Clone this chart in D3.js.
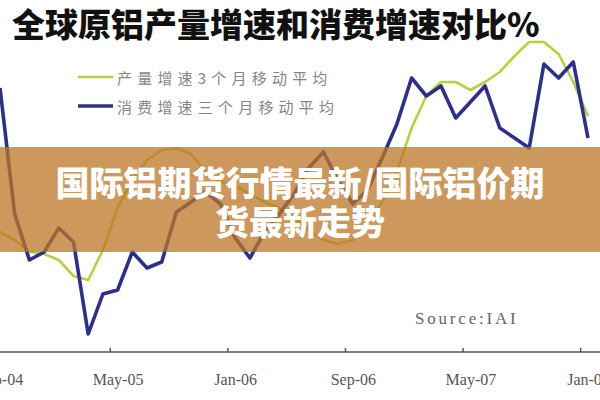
<!DOCTYPE html>
<html><head><meta charset="utf-8">
<script src="https://cdn.jsdelivr.net/npm/d3@7"></script>
<style>html,body{margin:0;padding:0;background:#fff;overflow:hidden;} svg{display:block;}</style>
</head><body>
<svg id="chart" width="600" height="400"></svg>
<script>
const months = ["Sep-04","Oct-04","Nov-04","Dec-04","Jan-05","Feb-05","Mar-05","Apr-05","May-05","Jun-05","Jul-05","Aug-05",
  "Sep-05","Oct-05","Nov-05","Dec-05","Jan-06","Feb-06","Mar-06","Apr-06","May-06","Jun-06","Jul-06","Aug-06",
  "Sep-06","Oct-06","Nov-06","Dec-06","Jan-07","Feb-07","Mar-07","Apr-07","May-07","Jun-07","Jul-07","Aug-07",
  "Sep-07","Oct-07","Nov-07","Dec-07","Jan-08"];
const production = [6.0,5.6,5.0,4.9,4.6,3.8,3.6,5.1,7.2,8.6,9.6,10.1,
  10.2,9.9,9.0,8.5,8.3,7.9,7.5,7.2,6.7,6.1,5.6,5.4,
  5.6,6.4,7.5,9.0,11.2,12.8,13.5,13.5,13.1,13.5,14.0,14.8,
  15.5,15.5,14.9,13.5,11.8];
const consumption = [13.2,6.9,4.6,5.0,6.2,5.5,0.9,2.9,3.1,5.0,4.2,4.5,
  7.0,7.5,8.0,7.4,5.7,4.7,6.0,6.9,7.9,9.2,10.0,8.6,
  7.4,8.1,9.7,11.4,13.7,12.8,13.3,11.7,12.5,13.3,11.2,10.7,
  10.2,14.4,13.7,14.5,10.7];
const tickLabels = ["Sep-04","May-05","Jan-06","Sep-06","May-07","Jan-08"];
const titleText = "全球原铝产量增速和消费增速对比%";
const legendLabels = ["产量增速3个月移动平均","消费增速三个月移动平均"];
const sourceText = "Source:IAI";
const bannerLines = ["国际铝期货行情最新/国际铝价期","货最新走势"];

const colors = {prod:"#b4d23a", cons:"#2e2e8e"};
const svg = d3.select("#chart");
const x = d3.scalePoint().domain(months).range([0, 588]);
const y = d3.scaleLinear().domain([0, 16]).range([352, 32]);
const step = x.step();

// title
svg.append("text").attr("x", 12).attr("y", 23).attr("dominant-baseline","central")
  .attr("font-family","'Noto Sans CJK SC'").attr("font-weight",900).attr("font-size",33)
  .attr("fill","#111").text(titleText);

// legend
const legend = svg.append("g");
[["prod",77],["cons",106]].forEach(([k,yy],i)=>{
  legend.append("line").attr("x1",78).attr("x2",113).attr("y1",yy).attr("y2",yy)
    .attr("stroke",colors[k]).attr("stroke-width", k==="cons"?3.5:2.5);
  legend.append("text").attr("x",117).attr("y",yy).attr("dominant-baseline","central")
    .attr("font-family","'Noto Sans CJK SC'").attr("font-size",15).attr("letter-spacing",5.2)
    .attr("fill","#858585").text(legendLabels[i]);
});

// lines
const line = d3.line().x((d,i)=>x(months[i])).y(d=>y(d));
svg.append("path").datum(production).attr("d",line).attr("fill","none")
  .attr("stroke",colors.prod).attr("stroke-width",2.6).attr("stroke-linejoin","round");
svg.append("path").datum(consumption).attr("d",line).attr("fill","none")
  .attr("stroke",colors.cons).attr("stroke-width",3.6).attr("stroke-linejoin","round");

// axis
svg.append("line").attr("x1",0).attr("x2",600).attr("y1",y(0)).attr("y2",y(0))
  .attr("stroke","#555").attr("stroke-width",1.5);
const axisG = svg.append("g").attr("transform",`translate(0,${y(0)})`)
  .call(d3.axisBottom(x).tickValues(tickLabels).tickSize(0).tickPadding(22));
axisG.select(".domain").remove();
axisG.selectAll("text").attr("font-family","'Liberation Serif'").attr("font-size",16).attr("fill","#555");
tickLabels.forEach(m=>{
  const tx = x(m) - step/2;
  svg.append("line").attr("x1",tx).attr("x2",tx).attr("y1",y(0)-4).attr("y2",y(0))
    .attr("stroke","#555").attr("stroke-width",1.5);
});

// source
svg.append("text").attr("x",415).attr("y",318).attr("dominant-baseline","central")
  .attr("font-family","'Liberation Serif'").attr("font-size",17).attr("letter-spacing",2.8)
  .attr("fill","#666").text(sourceText);

// banner overlay
svg.append("rect").attr("x",0).attr("y",147).attr("width",600).attr("height",105)
  .attr("fill","rgb(187,118,38)").attr("opacity",0.75);
bannerLines.forEach((t,i)=>{
  svg.append("text").attr("x",300).attr("y",181 + i*39).attr("text-anchor","middle")
    .attr("dominant-baseline","central").attr("font-family","'Noto Sans CJK SC'")
    .attr("font-weight",900).attr("font-size",34).attr("fill","#fff").text(t);
});
</script>
</body></html>
